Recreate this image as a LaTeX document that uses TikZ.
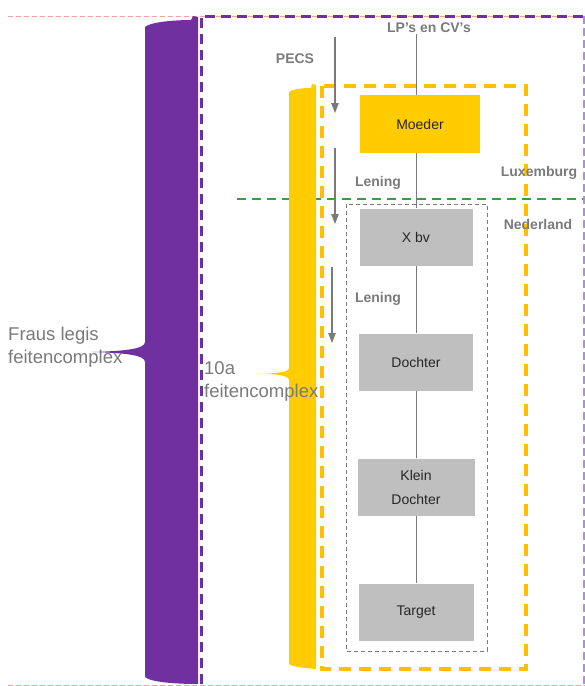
\documentclass[tikz,border=0pt]{standalone}
\usepackage{fontspec}
\setmainfont{Liberation Sans}
\usepackage{tikz}
\usetikzlibrary{arrows.meta}

\definecolor{fpurple}{HTML}{7030A0}
\definecolor{lpurple}{HTML}{B38CD9}
\definecolor{fyellow}{HTML}{FFCC00}
\definecolor{dyellow}{HTML}{FFC000}
\definecolor{boxgrey}{HTML}{BFBFBF}
\definecolor{txtgrey}{HTML}{7A7A7A}
\definecolor{fgreen}{HTML}{3A9F3A}
\definecolor{fpink}{HTML}{F2A0A0}

\begin{document}
\begin{tikzpicture}[x=1pt, y=-1pt, node distance=125pt]
        \tikzstyle{entity} = [rectangle, minimum height=57pt, text centered, align=center, inner sep=0pt, fill=boxgrey, text=black!85, font=\fontsize{14}{24}\selectfont]
        \tikzstyle{tagtext} = [text=txtgrey, inner sep=1pt, font=\bfseries\fontsize{14}{16}\selectfont]
        \tikzstyle{bigtext} = [text=txtgrey, align=left, inner sep=0pt, anchor=west, font=\fontsize{18.5}{23}\selectfont]
        \tikzstyle{link} = [draw=txtgrey, line width=0.9pt]
        \tikzstyle{arrow} = [draw=txtgrey, line width=1.1pt, -{Triangle[length=10pt,width=7.5pt]}]

        \useasboundingbox (0,0) rectangle (585,686);

        \draw [fpink, line width=1pt, dash pattern=on 5pt off 3pt] (8,16) -- (585,16);
        \draw [fpink, line width=1pt, dash pattern=on 5pt off 3pt] (8,685) -- (585,685);
        \draw [fgreen, line width=2pt, dash pattern=on 9pt off 6pt] (237,199) -- (585,199);
        \draw [fpurple, line width=3pt, dash pattern=on 10pt off 6pt] (201,684) -- (201,16) -- (585,16);
        \draw [lpurple, line width=1.3pt, dash pattern=on 8pt off 4pt] (584,16) -- (584,685);

        \fill [fpurple] (198,17) -- (198,684) .. controls (175,684) and (150,682) .. (145,677)
            -- (145,362) .. controls (145,355) and (125,353) .. (92,352)
            .. controls (125,351) and (145,349) .. (145,342)
            -- (145,27) .. controls (150,22) and (175,20) .. (191,20) -- (193,16) -- cycle;
        \fill [fyellow] (316,85) -- (316,669) .. controls (305,668) and (293,667) .. (289,664)
            -- (289,380) .. controls (289,376) and (278,374) .. (263,374)
            .. controls (278,373) and (289,372) .. (289,368)
            -- (289,92) .. controls (293,89) and (303,88) .. (311,88) -- (312,84) -- cycle;

        \draw [dyellow, line width=3.5pt, dash pattern=on 12pt off 8pt] (322,86) rectangle (526,669);
        \draw [txtgrey, line width=0.8pt, dash pattern=on 4pt off 3pt] (346,204) rectangle (487,651);

        \node (fraus) [bigtext] at (8,347) {Fraus legis\\feitencomplex};
        \node (tena) [bigtext] at (204,381) {10a\\feitencomplex};

        \node (lp) [tagtext] at (429,28) {LP’s en CV’s};
        \node (pecs) [tagtext] at (295,59) {PECS};
        \node (lening1) [tagtext] at (378,183) {Lening};
        \node (lening2) [tagtext] at (378,299) {Lening};
        \node (lux) [tagtext] at (539,173) {Luxemburg};
        \node (ned) [tagtext] at (538,224) {Nederland};

        \node (moeder) [entity, fill=fyellow, minimum width=120pt, minimum height=58pt] at (420,124) {Moeder};
        \node (xbv) [entity, minimum width=113pt] at (416,237) {X bv};
        \node (dochter) [entity, minimum width=114pt, below of=xbv] {Dochter};
        \node (klein) [entity, minimum width=117pt, below of=dochter] {Klein\\Dochter};
        \node (target) [entity, minimum width=115pt, below of=klein] {Target};

        \draw [link] (lp.south -| xbv) -- (moeder.north -| xbv);
        \draw [link] (moeder.south -| xbv) -- (xbv.north);
        \draw [link] (xbv) -- (dochter);
        \draw [link] (dochter) -- (klein);
        \draw [link] (klein) -- (target);

        \coordinate (pecsTop) at (335,37);
        \coordinate (pecsEnd) at (335,113);
        \coordinate (len1Top) at (335,148);
        \coordinate (len1End) at (335,224);
        \coordinate (len2Top) at (332,267);
        \coordinate (len2End) at (332,343);

        \draw [arrow] (pecsTop) -- (pecsEnd);
        \draw [arrow] (len1Top) -- (len1End);
        \draw [arrow] (len2Top) -- (len2End);
    \end{tikzpicture}
\end{document}
